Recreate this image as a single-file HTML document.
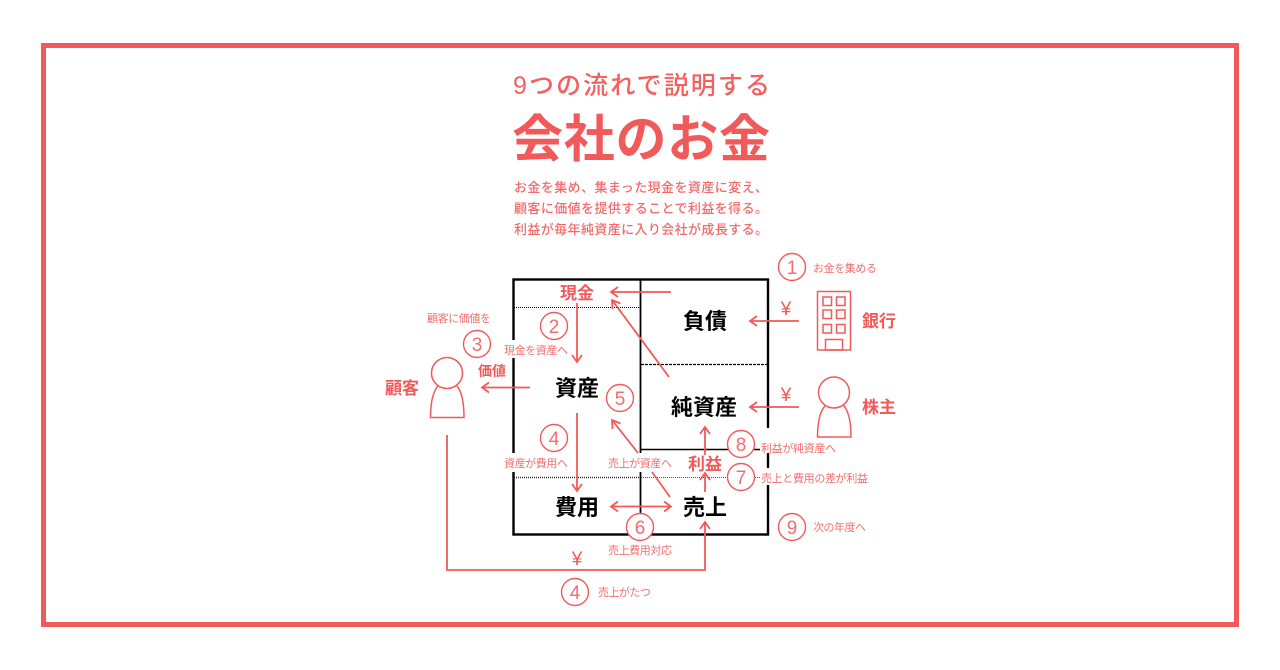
<!DOCTYPE html>
<html lang="ja">
<head>
<meta charset="utf-8">
<title>会社のお金</title>
<style>
html,body{margin:0;padding:0;background:#fff;width:1280px;height:670px;overflow:hidden}
svg{display:block}
text{font-family:"Liberation Sans","Noto Sans CJK JP",sans-serif;fill:#f15a5a}
.k{fill:#000;font-weight:700;font-size:22px;text-anchor:middle}
.r{font-weight:700;font-size:17px;text-anchor:middle}
.s{font-size:11px;fill:#f26d6d}
.n{font-size:19px;text-anchor:middle;fill:#f26d6d;font-weight:300}
.y{font-size:19px;text-anchor:middle;font-weight:500}
.a{fill:none;stroke:#f15a5a;stroke-width:1.800}
.c{fill:#fff;stroke:#f15a5a;stroke-width:1.400}
</style>
</head>
<body>
<svg width="1280" height="670" viewBox="0 0 1280 670" xmlns="http://www.w3.org/2000/svg">
<rect x="43.500" y="45.500" width="1193" height="579" fill="#fff" stroke="#f15a5a" stroke-width="5"/>

<text x="513" y="94" font-size="25" font-weight="500" textLength="257" lengthAdjust="spacing" style="fill:#f26060">9つの流れで説明する</text>
<text x="512" y="157" font-size="51" font-weight="700" textLength="258" lengthAdjust="spacing" style="fill:#f15a5a">会社のお金</text>
<text x="514" y="192" font-size="13" font-weight="500" textLength="254" lengthAdjust="spacing" style="fill:#f26a6a">お金を集め、集まった現金を資産に変え、</text>
<text x="514" y="213" font-size="13" font-weight="500" textLength="254" lengthAdjust="spacing" style="fill:#f26a6a">顧客に価値を提供することで利益を得る。</text>
<text x="514" y="234" font-size="13" font-weight="500" textLength="254" lengthAdjust="spacing" style="fill:#f26a6a">利益が毎年純資産に入り会社が成長する。</text>

<!-- balance table -->
<rect x="513.500" y="279.500" width="254.500" height="255" fill="#fff" stroke="#000" stroke-width="2.400"/>
<line x1="640.500" y1="279" x2="640.500" y2="535" stroke="#000" stroke-width="1.800"/>
<line x1="514" y1="307.500" x2="640" y2="307.500" stroke="#000" stroke-width="1" stroke-dasharray="1 1"/>
<line x1="641" y1="364.500" x2="768" y2="364.500" stroke="#000" stroke-width="1.200" stroke-dasharray="3 1"/>
<line x1="641" y1="449.500" x2="768" y2="449.500" stroke="#000" stroke-width="1.500"/>
<line x1="514" y1="477.500" x2="640" y2="477.500" stroke="#333" stroke-width="1.500" stroke-dasharray="1 1"/>
<line x1="641" y1="477.500" x2="768" y2="477.500" stroke="#555" stroke-width="1" stroke-dasharray="1 1"/>

<!-- white label backings -->
<rect x="504" y="340" width="66" height="18" fill="#fff"/>
<rect x="504" y="453" width="66" height="19" fill="#fff"/>
<rect x="606" y="453" width="66" height="19" fill="#fff"/>
<rect x="760" y="428" width="78" height="25" fill="#fff"/>
<rect x="760" y="468" width="110" height="17" fill="#fff"/>
<rect x="685" y="455" width="40" height="17" fill="#fff"/>

<!-- big labels -->
<text class="k" x="577" y="396">資産</text>
<text class="k" x="577" y="515">費用</text>
<text class="k" x="705" y="329">負債</text>
<text class="k" x="704" y="415">純資産</text>
<text class="k" x="705" y="515">売上</text>
<text class="r" x="577" y="299">現金</text>
<text class="r" x="705" y="470">利益</text>
<text class="r" x="492" y="376" style="font-size:14px">価値</text>
<text class="r" x="402" y="394">顧客</text>
<text class="r" x="879" y="327">銀行</text>
<text class="r" x="879" y="413">株主</text>

<!-- arrows -->
<g class="a">
<path d="M671 292H611M618 287l-7 5 7 5"/>
<path d="M669 377L612 300M612.500 309L612 300 620.500 303.500"/>
<path d="M577 303V362M572 355l5 7 5-7"/>
<path d="M530 387.500H482M489 382.500l-7 5 7 5"/>
<path d="M799 321H750M757 316l-7 5 7 5"/>
<path d="M799 407H750M757 402l-7 5 7 5"/>
<path d="M577 413V491M572 484l5 7 5-7"/>
<path d="M638 453L612 420M612.500 429L612 420 620.500 423.500"/>
<path d="M652 472L670 497"/>
<path d="M611 506.500H671M618 501.500l-7 5 7 5M664 501.500l7 5-7 5"/>
<path d="M705 492V473M700 480l5-7 5 7"/>
<path d="M705 455V427M700 434l5-7 5 7"/>
<path d="M447 435V570H705V522M700 529l5-7 5 7"/>
</g>

<!-- yen -->
<text class="y" x="786" y="315">¥</text>
<text class="y" x="786" y="401">¥</text>
<text class="y" x="577" y="565">¥</text>

<!-- bank -->
<g fill="none" stroke="#f15a5a" stroke-width="1.500">
<rect x="817.500" y="291.500" width="33" height="58.500"/>
<rect x="823" y="297" width="8.500" height="8.500"/><rect x="836.500" y="297" width="8.500" height="8.500"/>
<rect x="823" y="310" width="8.500" height="8.500"/><rect x="836.500" y="310" width="8.500" height="8.500"/>
<rect x="823" y="324.500" width="8.500" height="8.500"/><rect x="836.500" y="324.500" width="8.500" height="8.500"/>
<rect x="825.500" y="339.500" width="17" height="10.500"/>
</g>
<!-- shareholder -->
<g fill="#fff" stroke="#f15a5a" stroke-width="1.500">
<path d="M817.500 437C817.500 420 821 408 828 403H841C848 408 851 420 851 437Z"/>
<circle cx="834" cy="392.500" r="15.500"/>
</g>
<!-- customer -->
<g fill="#fff" stroke="#f15a5a" stroke-width="1.500">
<path d="M430.500 417.500C430.500 400 434 388 441 383H454C461 388 464 400 464 417.500Z"/>
<circle cx="447" cy="373" r="15.500"/>
</g>

<!-- numbered circles -->
<g>
<circle class="c" cx="792" cy="267" r="13.500"/><text class="n" x="792" y="274">1</text>
<circle class="c" cx="554" cy="326" r="13.500"/><text class="n" x="554" y="333">2</text>
<circle class="c" cx="477" cy="344" r="13.500"/><text class="n" x="477" y="351">3</text>
<circle class="c" cx="620" cy="398" r="13.500"/><text class="n" x="620" y="405">5</text>
<circle class="c" cx="554" cy="438" r="13.500"/><text class="n" x="554" y="445">4</text>
<circle class="c" cx="741" cy="444" r="13.500"/><text class="n" x="741" y="451">8</text>
<circle class="c" cx="741" cy="477" r="13.500"/><text class="n" x="741" y="484">7</text>
<circle class="c" cx="640" cy="527" r="13.500"/><text class="n" x="640" y="534">6</text>
<circle class="c" cx="792" cy="527" r="13.500"/><text class="n" x="792" y="534">9</text>
<circle class="c" cx="575" cy="592" r="13.500"/><text class="n" x="575" y="599">4</text>
</g>

<!-- small labels -->
<text class="s" x="813" y="272" textLength="64">お金を集める</text>
<text class="s" x="427" y="322" textLength="64">顧客に価値を</text>
<text class="s" x="504" y="354" textLength="64">現金を資産へ</text>
<text class="s" x="504" y="467" textLength="64">資産が費用へ</text>
<text class="s" x="608" y="467" textLength="64">売上が資産へ</text>
<text class="s" x="761" y="452" textLength="75">利益が純資産へ</text>
<text class="s" x="761" y="482" textLength="107">売上と費用の差が利益</text>
<text class="s" x="813" y="531" textLength="53">次の年度へ</text>
<text class="s" x="608" y="554" textLength="64">売上費用対応</text>
<text class="s" x="598" y="596" textLength="53">売上がたつ</text>
</svg>
</body>
</html>
